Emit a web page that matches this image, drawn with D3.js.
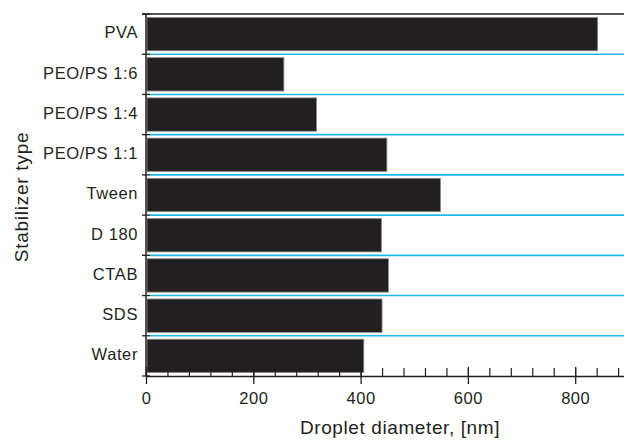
<!DOCTYPE html>
<html>
<head>
<meta charset="utf-8">
<script src="https://cdn.jsdelivr.net/npm/d3@7"></script>
<style>
  html, body { margin: 0; padding: 0; background: #fff; }
  svg { display: block; }
  text { font-family: "Liberation Sans", Arial, Helvetica, sans-serif; fill: #231f20; }
</style>
</head>
<body>
<svg id="chart" width="624" height="440"></svg>
<script>
// Stabilizers, listed top to bottom
const categories = ["PVA", "PEO/PS 1:6", "PEO/PS 1:4", "PEO/PS 1:1", "Tween", "D 180", "CTAB", "SDS", "Water"];
// Mean droplet diameter, nm
const diameters = [842, 257, 318, 449, 549, 439, 452, 440, 406];
// Axis ticks
const majorTicks = [0, 200, 400, 600, 800];
const minorTicks = d3.range(0, 881, 40);

const svg = d3.select("#chart");
const plotLeft = 146, plotRight = 624, plotTop = 14, plotBottom = 376;

const x = d3.scaleLinear().domain([0, 891]).range([plotLeft, plotRight]);
const y = d3.scaleBand().domain(categories).range([plotTop, plotBottom])
  .paddingInner(0.17).paddingOuter(0.085);
const step = y.step();

// Row separators
const sep = d3.range(1, categories.length).map(i => plotTop + i * step);
svg.append("g").selectAll("line").data(sep).join("line")
  .attr("x1", plotLeft + 4).attr("x2", plotRight)
  .attr("y1", d => d).attr("y2", d => d)
  .attr("stroke", "#1fb6e9").attr("stroke-width", 1.6);

// Top frame
svg.append("line").attr("x1", plotLeft - 4).attr("x2", plotRight)
  .attr("y1", plotTop).attr("y2", plotTop)
  .attr("stroke", "#555").attr("stroke-width", 2);

// Bars
svg.append("g").selectAll("rect").data(categories).join("rect")
  .attr("x", x(0) + 1)
  .attr("y", d => y(d))
  .attr("width", (d, i) => x(diameters[i]) - x(0) - 1)
  .attr("height", y.bandwidth())
  .attr("fill", "#231f20")
  .attr("stroke", "#8f8f8f").attr("stroke-width", 0.8);

// Y axis
const yAxis = svg.append("g").attr("transform", `translate(${plotLeft},0)`)
  .call(d3.axisLeft(y).tickSize(0).tickPadding(8));
yAxis.select(".domain").remove();
yAxis.selectAll("text")
  .attr("x", -8).attr("dy", null)
  .attr("y", 4.3)
  .style("font-size", "16.5px").style("letter-spacing", "0.6px")
  .attr("font-family", null);
svg.append("line").attr("x1", plotLeft).attr("x2", plotLeft)
  .attr("y1", plotTop).attr("y2", plotBottom)
  .attr("stroke", "#231f20").attr("stroke-width", 1.5);
svg.append("g").selectAll("line").data(d3.range(0, categories.length + 1).map(i => plotTop + i * step))
  .join("line")
  .attr("x1", plotLeft - 4).attr("x2", plotLeft + 4)
  .attr("y1", d => d).attr("y2", d => d)
  .attr("stroke", "#231f20").attr("stroke-width", 1.3);

// X axis: minor ticks inside
const xMinor = svg.append("g").attr("transform", `translate(0,${plotBottom})`)
  .call(d3.axisBottom(x).tickValues(minorTicks).tickSize(-8).tickFormat(""));
xMinor.select(".domain").remove();
xMinor.selectAll("line").attr("stroke", "#231f20").attr("stroke-width", 1.2).attr("y2", -8).attr("y1", 1);

// X axis: major ticks crossing the line, with labels
const xMajor = svg.append("g").attr("transform", `translate(0,${plotBottom})`)
  .call(d3.axisBottom(x).tickValues(majorTicks).tickSize(8).tickPadding(11));
xMajor.select(".domain").attr("d", `M${plotLeft},0.5H${plotRight}`).attr("stroke", "#231f20").attr("stroke-width", 1.3);
xMajor.selectAll(".tick line").attr("y1", -9).attr("y2", 8).attr("stroke", "#231f20").attr("stroke-width", 1.3);
xMajor.selectAll("text")
  .attr("dy", null).attr("y", 28)
  .style("font-size", "16.5px").style("letter-spacing", "0.5px")
  .attr("font-family", null);

// Axis titles
svg.append("text")
  .attr("x", 400).attr("y", 434)
  .attr("text-anchor", "middle")
  .style("font-size", "19px").style("letter-spacing", "0.6px")
  .text("Droplet diameter, [nm]");

svg.append("text")
  .attr("transform", "translate(28,197) rotate(-90)")
  .attr("text-anchor", "middle")
  .style("font-size", "19px").style("letter-spacing", "0.75px")
  .text("Stabilizer type");
</script>
</body>
</html>
